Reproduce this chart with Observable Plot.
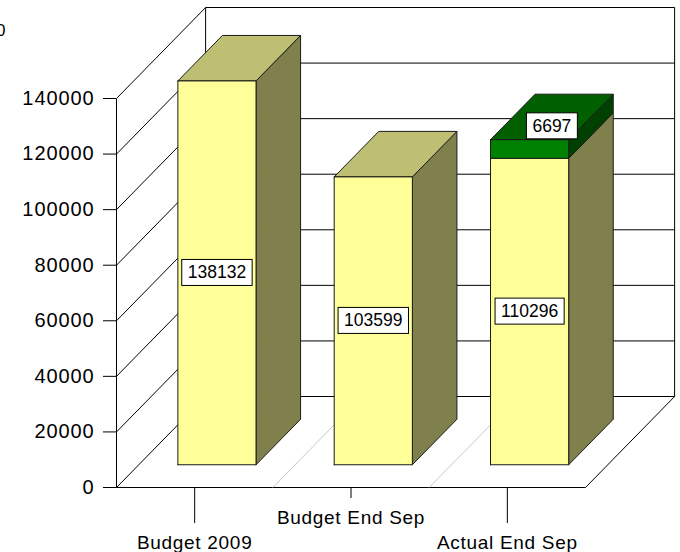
<!DOCTYPE html>
<html><head><meta charset="utf-8">
<script src="https://cdn.jsdelivr.net/npm/d3@7"></script>
<script src="https://cdn.jsdelivr.net/npm/@observablehq/plot@0.6"></script>
<style>
body{margin:0;background:#fff;}
g[aria-label="y-axis tick label"] text{letter-spacing:0.9px;}
g[aria-label="x-axis tick label"] text{letter-spacing:0.7px;}
</style>
</head><body><div id="chart"></div>
<script>
// ---- data ----
const categories = ["Budget 2009", "Budget End Sep", "Actual End Sep"];
const baseValues = [138132, 103599, 110296];   // pale yellow series
const extraValues = [0, 0, 6697];               // green series stacked on top
const yTicks = [0, 20000, 40000, 60000, 80000, 100000, 120000, 140000];
const lowerRow = [0, 2];   // categories whose label sits on the lower row
const upperRow = [1];

// ---- oblique 3D projection (depth 0..1 expressed in data units) ----
const n = categories.length;
const yMax = yTicks[yTicks.length - 1];
const DX = 0.57, DY = 32750;
const P = (c, v, d) => ({x: c + DX * d, y: v + DY * d});
const D0 = 0.25, D1 = 0.75, INSET = 0.25;

const yellow = {front: "#ffff99", top: "#bfbf73", side: "#80804d"};
const green = {front: "#008000", top: "#006000", side: "#004000"};

// wall / floor lines
const links = [];
const L = (a, b, stroke) => links.push({x1: a.x, y1: a.y, x2: b.x, y2: b.y, stroke});
yTicks.forEach(v => { L(P(0, v, 0), P(0, v, 1), "#000"); L(P(0, v, 1), P(n, v, 1), "#000"); });
L(P(0, 0, 1), P(0, yMax, 1), "#000");
L(P(n, 0, 1), P(n, yMax, 1), "#000");
L(P(0, 0, 0), P(0, yMax, 0), "#000");
L(P(0, 0, 0), P(n, 0, 0), "#000");
L(P(n, 0, 0), P(n, 0, 1), "#000");
for (let c = 1; c < n; c++) L(P(c, 0, 0), P(c, 0, 1), "#c8c8c8");

// bar faces (painter's order)
const faces = [];
let fid = 0;
function face(corners, fill) {
  const id = fid++;
  [...corners, corners[0]].forEach(([c, v, d]) => faces.push({id, fill, ...P(c, v, d)}));
}
const labels = [];
categories.forEach((cat, i) => {
  const c0 = i + INSET, c1 = i + 1 - INSET;
  const segs = [{v0: 0, v1: baseValues[i], col: yellow, val: baseValues[i], d: D0}];
  if (extraValues[i] > 0) segs.push({v0: baseValues[i], v1: baseValues[i] + extraValues[i], col: green, val: extraValues[i], d: 0.5});
  segs.forEach((s, k) => {
    face([[c1, s.v0, D0], [c1, s.v0, D1], [c1, s.v1, D1], [c1, s.v1, D0]], s.col.side);
    if (k === segs.length - 1) face([[c0, s.v1, D0], [c1, s.v1, D0], [c1, s.v1, D1], [c0, s.v1, D1]], s.col.top);
    face([[c0, s.v0, D0], [c1, s.v0, D0], [c1, s.v1, D0], [c0, s.v1, D0]], s.col.front);
  });
  segs.forEach(s => labels.push({...P(i + 0.5, (s.v0 + s.v1) / 2, s.d), text: String(s.val)}));
});

const font = "Liberation Sans, Arial, Helvetica, sans-serif";
const chart = Plot.plot({
  width: 680, height: 552,
  marginLeft: 116, marginRight: 95, marginTop: 98, marginBottom: 65,
  style: {fontFamily: font, background: "#fff", color: "#000"},
  x: {type: "linear", domain: [0, n], axis: null},
  y: {type: "linear", domain: [0, yMax], axis: null},
  color: {type: "identity"},
  marks: [
    Plot.link(links, {x1: "x1", y1: "y1", x2: "x2", y2: "y2", stroke: "stroke", strokeWidth: 1}),
    Plot.axisY({ticks: yTicks, tickSize: 13, tickPadding: 9, tickFormat: d3.format("d"), fontSize: 20, label: null, stroke: "#000"}),
    Plot.axisX({ticks: lowerRow.map(i => i + 0.5), tickSize: 36, tickPadding: 12, tickFormat: t => categories[Math.floor(t)], fontSize: 19, label: null}),
    Plot.axisX({ticks: upperRow.map(i => i + 0.5), tickSize: 11, tickPadding: 12, tickFormat: t => categories[Math.floor(t)], fontSize: 19, label: null}),
    Plot.line(faces, {x: "x", y: "y", z: "id", fill: "fill", stroke: "#1a1a1a", strokeWidth: 1, strokeLinejoin: "miter"}),
    Plot.text(labels, {x: "x", y: "y", text: "text", fontSize: 17.5, fill: "#000"}),
    Plot.text(["0"], {frameAnchor: "top-left", dx: -111, dy: -75, textAnchor: "end", fontSize: 17, fill: "#000"})
  ]
});
document.getElementById("chart").appendChild(chart);

// white boxes behind value labels
const labelTexts = new Set(labels.map(d => d.text));
chart.querySelectorAll("text").forEach(t => {
  if (!labelTexts.has(t.textContent)) return;
  const b = t.getBBox();
  const r = document.createElementNS("http://www.w3.org/2000/svg", "rect");
  r.setAttribute("x", b.x - 6); r.setAttribute("y", b.y - 3);
  r.setAttribute("width", b.width + 12); r.setAttribute("height", b.height + 6);
  r.setAttribute("fill", "#fff"); r.setAttribute("stroke", "#000"); r.setAttribute("stroke-width", 1);
  if (t.getAttribute("transform")) r.setAttribute("transform", t.getAttribute("transform"));
  t.parentNode.insertBefore(r, t);
});
</script>
</body></html>
